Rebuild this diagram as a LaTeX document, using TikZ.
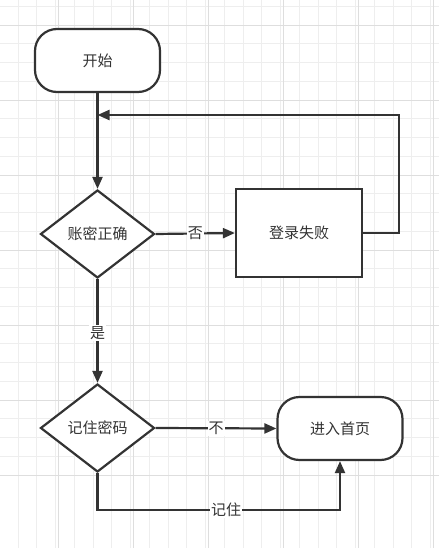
\documentclass[tikz,border=0pt]{standalone}
\usepackage{fontspec}
\setmainfont{Noto Sans CJK SC}
\usetikzlibrary{shapes.geometric,arrows.meta}
\definecolor{ink}{HTML}{333333}
\definecolor{gridminor}{HTML}{EEEEEE}
\definecolor{gridmajor}{HTML}{DEDEDE}
\begin{document}
\begin{tikzpicture}[x=1pt,y=-1pt,
  every node/.style={font=\fontsize{15pt}{17pt}\selectfont, text=ink},
  terminal/.style={draw=ink, line width=2.2pt, rounded corners=22pt, fill=white, minimum width=125pt, minimum height=63pt, inner sep=0pt},
  procbox/.style={draw=ink, line width=2.2pt, fill=white, minimum width=126pt, minimum height=88pt, inner sep=0pt},
  decision/.style={draw=ink, line width=2.2pt, diamond, fill=white, minimum width=114pt, minimum height=88pt, inner sep=0pt, aspect=1.3},
  flow/.style={draw=ink, line width=2.2pt, -{Triangle[length=12pt,width=10pt]}},
  lbl/.style={fill=white, inner sep=1pt}]
\useasboundingbox (0,0) rectangle (439,548);
\fill[white] (0,0) rectangle (439,548);
% grid
\foreach \i in {-1,...,24} {
  \draw[gridminor, line width=0.9pt] ({-0.75+18.75*\i},0) -- ({-0.75+18.75*\i},548);
  \draw[gridminor, line width=0.9pt] (0,{6.25+18.75*\i}) -- (439,{6.25+18.75*\i});
}
\foreach \i in {-1,...,6} {
  \draw[gridmajor, line width=0.9pt] ({58+75*\i},0) -- ({58+75*\i},548);
  \draw[gridmajor, line width=0.9pt] (0,{25+75*\i}) -- (439,{25+75*\i});
}
% nodes
\node[terminal] (start) at (97.5,60.5) {开始};
\node[decision] (check) at (97.5,234) {账密正确};
\node[procbox] (fail) at (299,233) {登录失败};
\node[decision] (remember) at (97.5,428) {记住密码};
\node[terminal] (home) at (340,428.5) {进入首页};
\coordinate (loopR) at (399,233);
\coordinate (loopT) at (399,115);
\coordinate (loopJ) at (97.5,115);
\coordinate (botL) at (97.5,510);
\coordinate (botR) at (340,510);
% connectors
\draw[flow] (start.south) -- (check.north);
\draw[flow] (fail.east) -- (loopR) -- (loopT) -- (loopJ);
\draw[flow] (check.east) -- node[lbl, pos=0.5] {否} (fail.west);
\draw[flow] (check.south) -- node[lbl, pos=0.52] {是} (remember.north);
\draw[flow] (remember.east) -- node[lbl, pos=0.5] {不} (home.west);
\draw[flow] (remember.south) -- (botL) -- node[lbl, pos=0.53] {记住} (botR) -- (home.south);
\end{tikzpicture}
\end{document}
